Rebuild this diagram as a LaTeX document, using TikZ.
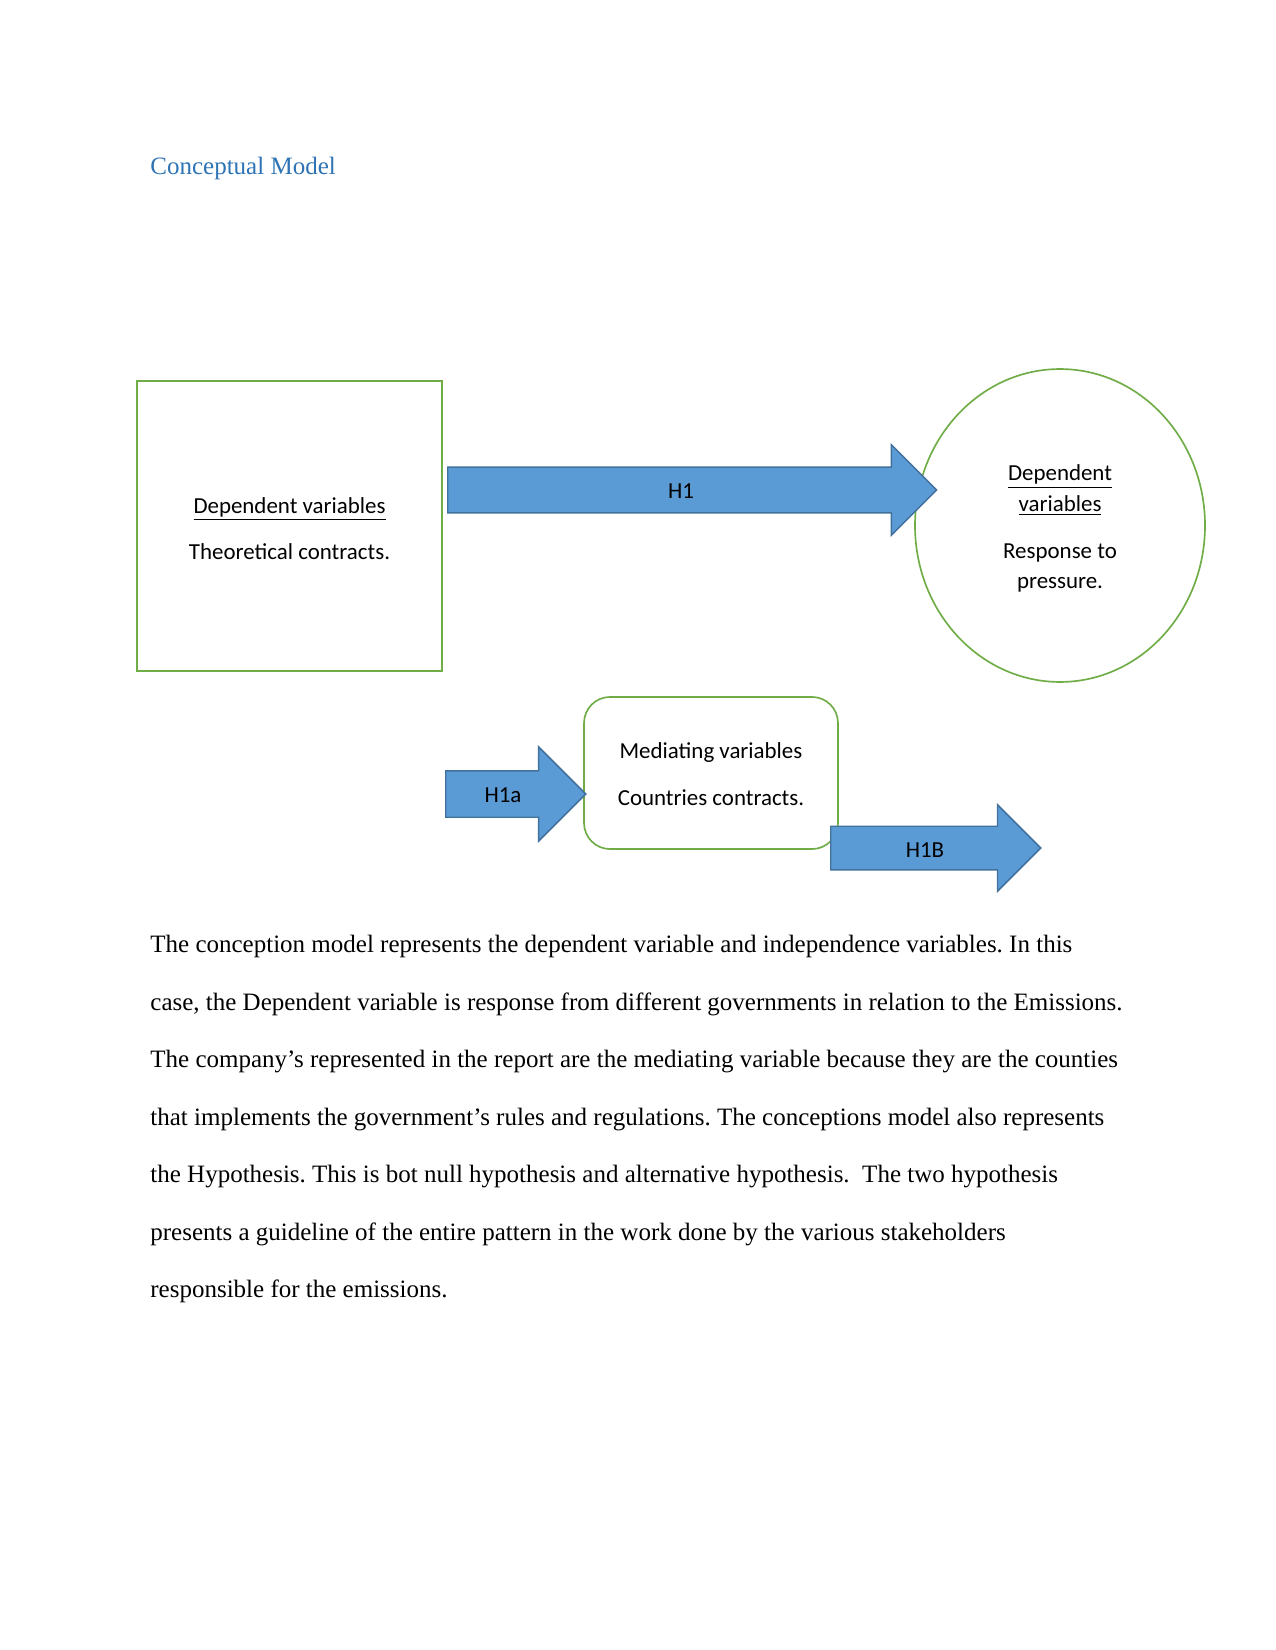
\documentclass[tikz,border=0pt]{standalone}
\usepackage{fontspec}
\setmainfont{Liberation Serif}
\newfontfamily\calibri{Carlito}
\usetikzlibrary{shapes.geometric,shapes.arrows}
\definecolor{boxgreen}{HTML}{70AD47}
\definecolor{arrowfill}{HTML}{5B9BD5}
\definecolor{arrowline}{HTML}{41719C}
\definecolor{titleblue}{HTML}{2E74B5}
\frenchspacing
\begin{document}
\begin{tikzpicture}[
  x=0.48pt, y=-0.48pt,
  every node/.style={inner sep=0pt},
  varbox/.style={draw=boxgreen,line width=0.8pt,fill=white,align=center,
    font=\calibri\fontsize{11}{14.5}\selectfont},
  blockarrow/.style={single arrow,draw=arrowline,fill=arrowfill,line width=0.7pt,
    inner xsep=0pt,anchor=tail},
  hlabel/.style={font=\calibri\fontsize{11}{13}\selectfont,anchor=base},
  bodyline/.style={font=\fontsize{12}{14}\selectfont,anchor=base west}
]
\useasboundingbox (0,0) rectangle (1275,1650);
\node[anchor=base west,font=\fontsize{12}{14}\selectfont,text=titleblue] (title) at (150,175) {Conceptual Model};

% variable boxes
\node[varbox,minimum width=146.4pt,minimum height=139.2pt] (indep) at (289.5,526) {};
\node[align=center,font=\calibri\fontsize{11}{14.5}\selectfont] (indeptxt) at (289.5,528.5)
  {\underline{Dependent variables}\\[7.8pt]Theoretical contracts.};
\node[varbox,ellipse,minimum width=139.2pt,minimum height=150.2pt] (dep) at (1060,525.5) {};
\node[align=center,font=\calibri\fontsize{11}{14.5}\selectfont] (deptxt) at (1060,528.5)
  {\underline{Dependent}\\\underline{variables}\\[8pt]Response to\\pressure.};
\node[varbox,rounded corners=12.5pt,minimum width=121.9pt,minimum height=73pt] (med) at (711,773) {};
\node[align=center,font=\calibri\fontsize{11}{14.5}\selectfont] (medtxt) at (711,774)
  {Mediating variables\\[8.2pt]Countries contracts.};

% hypothesis arrows
\node[blockarrow,inner ysep=10.6pt,single arrow head extend=10.8pt,minimum height=234.7pt] (h1) at (447,490) {};
\node[hlabel] (h1txt) at (681,498) {H1};
\node[blockarrow,inner ysep=10.8pt,single arrow head extend=11.5pt,minimum height=67.2pt] (h1a) at (445,794) {};
\node[hlabel] (h1atxt) at (503,802.5) {H1a};
\node[blockarrow,inner ysep=10.1pt,single arrow head extend=10.3pt,minimum height=100.8pt] (h1b) at (830,848) {};
\node[hlabel] (h1btxt) at (925,857) {H1B};

% text below the model
\node[bodyline] (l1) at (150,952.5) {The conception model represents the dependent variable and independence variables. In this};
\node[bodyline] (l2) at (150,1010) {case, the Dependent variable is response from different governments in relation to the Emissions.};
\node[bodyline] (l3) at (150,1067.5) {The company’s represented in the report are the mediating variable because they are the counties};
\node[bodyline] (l4) at (150,1125) {that implements the government’s rules and regulations. The conceptions model also represents};
\node[bodyline] (l5) at (150,1182.5) {the Hypothesis. This is bot null hypothesis and alternative hypothesis.\ \ The two hypothesis};
\node[bodyline] (l6) at (150,1240) {presents a guideline of the entire pattern in the work done by the various stakeholders};
\node[bodyline] (l7) at (150,1297.5) {responsible for the emissions.};
\end{tikzpicture}
\end{document}
